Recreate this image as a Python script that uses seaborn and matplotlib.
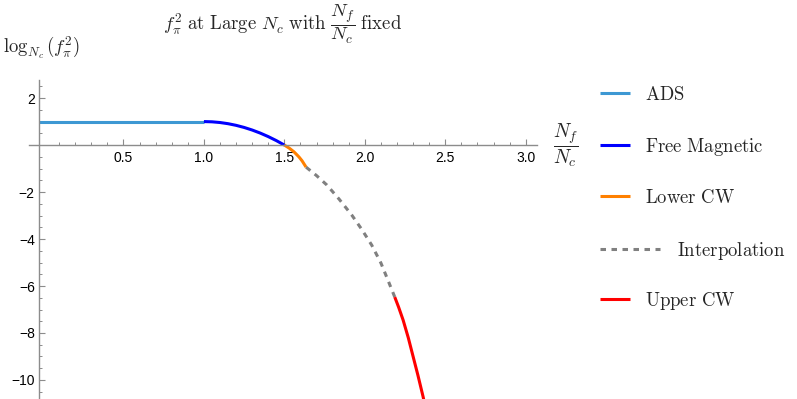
import matplotlib
matplotlib.use("Agg")
import matplotlib.pyplot as plt
from matplotlib.lines import Line2D
from matplotlib.ticker import FixedLocator, NullFormatter
import seaborn as sns
import pandas as pd

# ---- data ----
ads_x = [-0.025, 1.0]
ads_y = [1.0, 1.0]

free_x = [1.0, 1.05, 1.10, 1.15, 1.20, 1.25, 1.30, 1.35, 1.40, 1.45, 1.50]
free_y = [1.0, 0.99, 0.96, 0.91, 0.84, 0.75, 0.64, 0.51, 0.36, 0.19, 0.0]

lower_x = [1.50, 1.53, 1.56, 1.59, 1.61, 1.635]
lower_y = [0.0, -0.13, -0.29, -0.50, -0.67, -0.94]

interp_x = [1.635, 1.70, 1.764, 1.84, 1.919, 1.98, 2.043, 2.10, 2.143, 2.186]
interp_y = [-0.94, -1.30, -1.70, -2.30, -2.98, -3.58, -4.26, -5.02, -5.74, -6.47]

upper_x = [2.186, 2.21, 2.238, 2.27, 2.30, 2.33, 2.362, 2.368]
upper_y = [-6.47, -6.90, -7.45, -8.20, -9.00, -9.80, -10.71, -10.90]

series_names = ["ADS", "Free Magnetic", "Lower CW", "Interpolation", "Upper CW"]
series_colors = ["#3d98d3", "#0000ff", "#ff8000", "#808080", "#ff0000"]

x_major = [0.5, 1.0, 1.5, 2.0, 2.5, 3.0]
y_major = [-10, -8, -6, -4, -2, 2]

# ---- style ----
sns.set_style("white")
plt.rcParams["mathtext.fontset"] = "cm"
plt.rcParams["font.family"] = ["Liberation Sans", "DejaVu Sans"]

W, H = 797, 399
fig = plt.figure(figsize=(W / 100, H / 100), dpi=100)
ax = fig.add_axes([29 / W, 0.0, (537 - 29) / W, 319 / H])
ax.set_xlim(-0.087, 3.07)
ax.set_ylim(-10.81, 2.77)

lw = 2.2
data = [(ads_x, ads_y), (free_x, free_y), (lower_x, lower_y),
        (interp_x, interp_y), (upper_x, upper_y)]
for (xs, ys), name, col in zip(data, series_names, series_colors):
    df = pd.DataFrame({"x": xs, "y": ys})
    kw = {}
    if name == "Interpolation":
        kw["linestyle"] = (0, (1.8, 1.8))
    sns.lineplot(data=df, x="x", y="y", ax=ax, color=col, lw=lw,
                 sort=False, estimator=None, solid_capstyle="butt",
                 dash_capstyle="butt", clip_on=True, **kw)

# axes through origin
axis_col = "#8c8c8c"
for s in ["top", "right"]:
    ax.spines[s].set_visible(False)
ax.spines["left"].set_position(("data", -0.025))
ax.spines["bottom"].set_position(("data", 0))
for s in ["left", "bottom"]:
    ax.spines[s].set_color(axis_col)
    ax.spines[s].set_linewidth(1.0)

ax.xaxis.set_major_locator(FixedLocator(x_major))
ax.xaxis.set_minor_locator(FixedLocator([i / 10 for i in range(1, 31)]))
ax.yaxis.set_major_locator(FixedLocator(y_major))
ax.yaxis.set_minor_locator(FixedLocator([i / 2 for i in range(-21, 6)]))
ax.set_xticklabels([f"{v:.1f}" for v in x_major])
ax.set_yticklabels([("\u2212" + str(-v)) if v < 0 else str(v) for v in y_major])
ax.yaxis.set_minor_formatter(NullFormatter())
ax.xaxis.set_minor_formatter(NullFormatter())

ax.tick_params(axis="x", which="both", bottom=True, top=False)
ax.tick_params(axis="y", which="both", left=True, right=False)
ax.tick_params(axis="x", which="major", direction="in", length=4.2, width=0.8,
               color=axis_col, pad=4.5, labelsize=10, labelcolor="black")
ax.tick_params(axis="x", which="minor", direction="in", length=2.2, width=0.7,
               color=axis_col)
ax.tick_params(axis="y", which="major", direction="in", length=4.2, width=0.8,
               color=axis_col, pad=3, labelsize=10, labelcolor="black")
ax.tick_params(axis="y", which="minor", direction="in", length=2.2, width=0.7,
               color=axis_col)
ax.set_xlabel("")
ax.set_ylabel("")
ax.grid(False)

def fy(py):
    return 1 - py / H

# title and axis labels
fig.text(283 / W, fy(24),
         r"$f_\pi^2\ \mathrm{at\ Large}\ N_c\ \mathrm{with}\ \dfrac{N_f}{N_c}\ \mathrm{fixed}$",
         ha="center", va="center", fontsize=13.5)
fig.text(3 / W, fy(47), r"$\log_{N_c}(f_\pi^2)$", ha="left", va="center",
         fontsize=13.5)
fig.text(566 / W, fy(145), r"$\dfrac{N_f}{N_c}$", ha="center", va="center",
         fontsize=14)

# legend drawn at the right
leg_y = [93, 145, 196, 249, 299]
for name, col, py in zip(series_names, series_colors, leg_y):
    if name == "Interpolation":
        x1, tx = 660, 677
        ls = (0, (1.8, 1.8))
    else:
        x1, tx = 630, 645
        ls = "-"
    fig.add_artist(Line2D([600 / W, x1 / W], [fy(py), fy(py)], color=col,
                          lw=lw, linestyle=ls, solid_capstyle="butt",
                          dash_capstyle="butt", transform=fig.transFigure))
    fig.text(tx / W, fy(py + 6.5), r"$\mathrm{" + name.replace(" ", r"\ ") + "}$",
             ha="left", va="baseline", fontsize=13.5)

fig.savefig("out.png", dpi=100)
